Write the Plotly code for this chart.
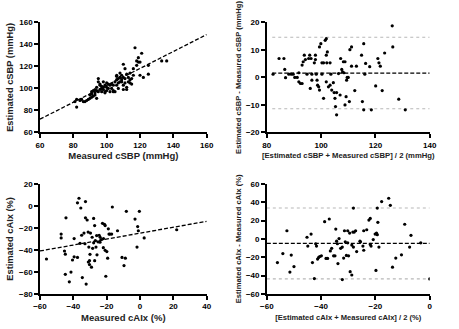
import plotly.graph_objects as go

# Panel A: Estimated vs measured cSBP
sbp_meas = [82,81,82,84,87,88,90,90,91,91,92,93,94,94,95,95,96,97,97,98,99,100,101,102,103,104,105,106,106,107,
            107,108,109,109,110,110,111,111,112,112,113,114,114,115,116,117,118,118,119,119,120,120,121,122,125,125,133,136,
            91,92,93,94,95,96,96,97,98,98,99,100,100,101,102,103,104,105,106,107,108,108,109,110,111,112,113,114,115,116,
            110,104,99,93,89,86,85,106]
sbp_est = [83,88,90,89,88,89,91,94,92,97,98,99,91,101,106,109,103,100,97,106,97,101,104,97,100,103,97,103,112,109,
           105,114,112,106,103,122,109,118,101,99,106,114,105,109,118,137,121,125,128,124,124,112,132,110,113,121,125,125,
           95,93,96,98,97,99,104,102,101,99,103,98,105,100,103,104,98,106,108,100,110,106,108,110,105,113,110,108,104,112,
           99,97,96,94,90,88,90,111]
sbp_fit_x = [60, 160]
sbp_fit_y = [72, 149]

# Panel B: Bland-Altman cSBP
ba_sbp_mean = [82.3,84.5,86.3,86.6,86.9,88.1,89.0,89.7,90.3,91.2,91.8,91.8,92.4,93.0,93.0,93.4,93.8,94.2,94.8,95.4,
               95.8,96.0,96.3,96.6,96.6,97.5,97.9,97.9,98.2,98.5,98.7,99.1,99.4,99.4,99.9,100.3,100.3,100.9,100.9,101.5,
               101.9,101.9,102.1,101.9,102.3,102.7,103.3,103.3,103.6,103.9,104.5,104.8,105.1,105.3,105.7,105.7,106.4,107.0,107.2,107.6,
               107.9,108.2,108.4,108.8,108.8,109.2,109.4,109.6,110.0,110.4,110.6,111.2,111.2,112.4,113.0,114.9,115.2,115.7,115.7,116.1,
               116.4,117.9,118.5,120.1,120.9,121.3,121.8,122.5,123.4,126.2,126.4,128.6,131.0]
ba_sbp_diff = [1.2,6.9,6.9,2.9,-0.1,1.2,1.2,1.2,0,0,1.7,-1.6,-2.2,-2.2,4.5,5.7,8.1,6.5,1.2,6.9,
               8.1,-4.0,6.9,1.2,-1.0,5.3,8.1,6.5,1.2,-1.0,-2.8,-3.4,-4.6,11.1,12.3,5.3,1.2,5.3,-7.6,13.5,
               14.1,8.1,5.3,-1.6,9.3,-3.4,-2.8,5.3,1.2,-4.6,-1.9,-5.5,-7.6,-10.6,-13.6,-5.5,1.4,-6.4,6.9,2.9,
               2.0,5.7,1.7,5.7,-10.0,-7.0,-1.0,0,0,-8.8,10.1,11.1,4.1,-4.8,4.1,8.1,-8.8,12.3,-11.8,1.2,
               5.1,3.9,-11.8,-3.1,6.9,5.3,4.1,-4.8,8.9,18.8,11.1,-7.9,-11.8]
sbp_bias = 1.6
sbp_loa = [14.6, -11.4]
sbp_line_x = [82, 140]

# Panel C: Estimated vs measured cAIx
aix_meas = [-56.1,-47.3,-47.3,-45.3,-44.8,-44.8,-44.4,-42.4,-41.4,-40.5,-39.5,-39.5,-37.5,-37.5,-36.6,-35.5,-35.0,-34.6,-33.6,-33.0,
            -32.7,-32.7,-32.3,-31.7,-31.1,-30.7,-30.3,-30.3,-29.7,-29.1,-28.7,-28.4,-27.8,-27.8,-27.2,-27.2,-26.8,-26.4,-25.8,-25.2,
            -24.5,-23.9,-23.3,-22.5,-21.9,-21.3,-20.9,-20.9,-20.5,-19.9,-19.4,-19.0,-18.6,-18.0,-17.0,-16.6,-13.5,-10.8,-9.6,-8.8,
            -8.2,-3.0,-1.8,-1.4,-1.0,-0.4,2.5,22.0,-31.0,-26.0,-22.0,-36.0,-30.0,-24.0]
aix_est = [-48.3,-25.6,-29.1,-41.0,-43.9,-62.2,-10.8,-69.1,-60.2,-49.2,-46.3,-29.7,-46.9,2.8,7.0,-1.9,-26.7,-65.2,-24.7,-34.4,
           4.0,-10.8,-71.1,-12.8,-23.8,-37.4,-49.8,-53.4,-24.7,-55.7,-28.5,-38.6,-11.4,-33.6,-17.9,-49.8,-31.5,-37.4,-44.5,-32.7,
           -26.7,-28.5,-30.6,-15.8,-29.7,-16.7,-17.9,-40.4,-64.0,-41.5,-47.5,-20.8,-25.6,-25.6,-25.6,-1.0,-22.6,-46.9,-54.3,-47.5,
           -4.9,-12.0,-37.4,-18.8,-22.6,-4.9,-29.1,-21.7,-51.0,-27.0,-38.0,-34.0,-44.0,-33.0]
aix_fit_x = [-60, 40]
aix_fit_y = [-41, -14]

# Panel D: Bland-Altman cAIx
ba_aix_mean = [-56.1,-54.1,-52.6,-51.5,-51.0,-50.0,-45.2,-44.9,-43.7,-43.2,-42.5,-42.0,-41.7,-41.3,-40.9,-40.5,-39.9,-38.7,-38.2,-37.6,
               -37.0,-36.6,-36.1,-35.4,-34.9,-34.6,-34.3,-34.0,-33.8,-33.4,-32.8,-32.2,-32.2,-31.7,-31.4,-31.1,-30.7,-30.2,-30.2,-29.9,
               -29.5,-29.3,-28.7,-28.7,-28.3,-28.1,-28.1,-27.8,-27.3,-26.9,-25.7,-25.5,-24.6,-24.3,-24.3,-23.2,-22.4,-21.9,-21.9,-21.6,
               -20.8,-20.1,-19.8,-19.6,-19.3,-19.3,-19.1,-18.7,-17.7,-15.1,-14.5,-13.7,-12.5,-10.4,-9.2,-7.4,-6.9,-3.3,0.0]
ba_aix_diff = [-25.9,-16.0,8.9,-36.2,-17.7,-30.2,1.8,-7.8,5.3,-25.9,-43.3,-5.3,-7.8,-22.0,-20.2,-19.2,-18.5,18.8,-21.3,-21.3,
               21.7,-13.1,-10.3,-18.5,-18.5,10.7,-2.5,-5.3,-27.0,0.4,-10.3,-8.9,-44.4,-20.9,8.9,-3.2,-18.1,8.9,-4.3,-18.5,
               6.4,-35.8,-6.7,-39.4,7.5,33.7,-8.9,7.5,8.9,-13.8,-2.5,-3.2,-7.8,8.9,-12.4,10.0,20.6,22.4,-6.0,-7.8,
               -0.7,5.3,-34.4,6.4,4.6,33.7,18.1,-8.9,40.8,44.4,36.6,-30.9,-20.9,-17.4,16.0,-8.9,3.9,-4.3,-43.7]
aix_bias = -5.0
aix_loa = [33.7, -43.7]
aix_line_x = [-60, 0]

FONT = "Liberation Sans"
fig = go.Figure()

def dots(x, y, ax):
    fig.add_trace(go.Scatter(x=x, y=y, mode="markers", xaxis="x" + ax, yaxis="y" + ax,
                             marker=dict(color="black", size=3.2, symbol="circle"),
                             showlegend=False, hoverinfo="skip"))

def line(x, y, ax, color, dash, width):
    fig.add_trace(go.Scatter(x=x, y=y, mode="lines", xaxis="x" + ax, yaxis="y" + ax,
                             line=dict(color=color, dash=dash, width=width),
                             showlegend=False, hoverinfo="skip"))

DASH = "4px,2px"
# Panel A
line(sbp_fit_x, sbp_fit_y, "", "black", DASH, 1.3)
dots(sbp_meas, sbp_est, "")
# Panel B
for v in sbp_loa:
    line(sbp_line_x, [v, v], "2", "#b8b8b8", "dot", 1.1)
line(sbp_line_x, [sbp_bias, sbp_bias], "2", "black", DASH, 1.3)
dots(ba_sbp_mean, ba_sbp_diff, "2")
# Panel C
line(aix_fit_x, aix_fit_y, "3", "black", DASH, 1.3)
dots(aix_meas, aix_est, "3")
# Panel D
for v in aix_loa:
    line(aix_line_x, [v, v], "4", "#b8b8b8", "dot", 1.1)
line(aix_line_x, [aix_bias, aix_bias], "4", "black", DASH, 1.3)
dots(ba_aix_mean, ba_aix_diff, "4")

tickfont = dict(family=FONT, size=8, color="black", weight="bold")

def ax(domain, rng, dtick, title, anchor, tsize, standoff=4):
    return dict(domain=domain, range=rng, dtick=dtick, tick0=rng[0], showgrid=False, zeroline=False,
                showline=True, linecolor="black", linewidth=1.5, ticks="outside", ticklen=4,
                tickwidth=1.5, tickcolor="black", tickfont=tickfont, anchor=anchor,
                title=dict(text=title, font=dict(family=FONT, size=tsize, color="#222", weight="bold"),
                           standoff=standoff))

W, H = 459, 329
xl = [34 / W, 206 / W]
xr = [268 / W, 436 / W]
yt = [1 - 132 / H, 1 - 19 / H]
yb = [1 - 298 / H, 1 - 185 / H]

fig.update_layout(
    width=W, height=H, margin=dict(l=0, r=0, t=0, b=0),
    paper_bgcolor="white", plot_bgcolor="white",
    xaxis=ax(xl, [60, 160], 20, "Measured cSBP (mmHg)", "y", 9.5),
    yaxis=ax(yt, [60, 160], 20, "Estimated cSBP (mmHg)", "x", 9.3),
    xaxis2=ax(xr, [80, 140], 20, "[Estimated cSBP + Measured cSBP] / 2 (mmHg)", "y2", 7.7),
    yaxis2=ax(yt, [-20, 20], 10, "Estimated cSBP - Measured cSBP (mmHg)", "x2", 7.6, 3),
    xaxis3=ax(xl, [-60, 40], 20, "Measured cAIx (%)", "y3", 9.5),
    yaxis3=ax(yb, [-80, 20], 20, "Estimated cAIx (%)", "x3", 9.3),
    xaxis4=ax(xr, [-60, 0], 20, "[Estimated cAIx + Measured cAIx] / 2 (%)", "y4", 7.6),
    yaxis4=ax(yb, [-60, 60], 20, "Estimated cAIx - Measured cAIx (%)", "x4", 7.6, 3),
)

fig.write_html("out.html")
